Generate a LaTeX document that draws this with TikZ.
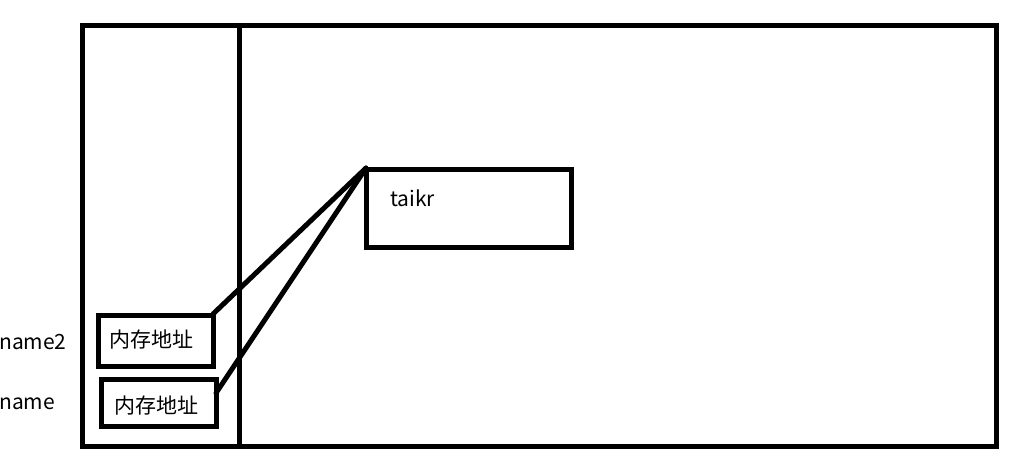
\documentclass[tikz,border=0pt]{standalone}
\usepackage{fontspec}
\setmainfont{Noto Sans CJK SC}
\begin{document}
\begin{tikzpicture}[x=1pt,y=-1pt,
  frame/.style={draw=black,line width=5pt},
  memtext/.style={font=\fontsize{21}{23}\selectfont,inner sep=0pt},
  lbl/.style={font=\fontsize{21}{23}\selectfont,inner sep=0pt,anchor=west},
  link/.style={draw=black,line width=5pt,line cap=round}]
\useasboundingbox[fill=white] (0,0) rectangle (1030,473);
\draw[frame] (82,25.5) rectangle (996,446);
\draw[frame] (239,25.5) -- (239,446);
% object box
\draw[frame] (366,170) rectangle (571,247);
\node[memtext,anchor=west] (taikr) at (390,198) {taikr};
\coordinate (objTL) at (366,168);
% memory address boxes
\draw[frame] (98,315) rectangle (213,366);
\node[memtext] (addr2) at (151,340) {内存地址};
\draw[frame] (101,379) rectangle (216,426);
\node[memtext] (addr1) at (156,406) {内存地址};
\coordinate (a2) at (213,314);
\coordinate (a1) at (216,393);
% labels
\node[lbl] (name2) at (-1,342) {name2};
\node[lbl] (name) at (-1,404) {name};
% references
\draw[link] (a2) -- (objTL);
\draw[link] (a1) -- (objTL);
\end{tikzpicture}
\end{document}
